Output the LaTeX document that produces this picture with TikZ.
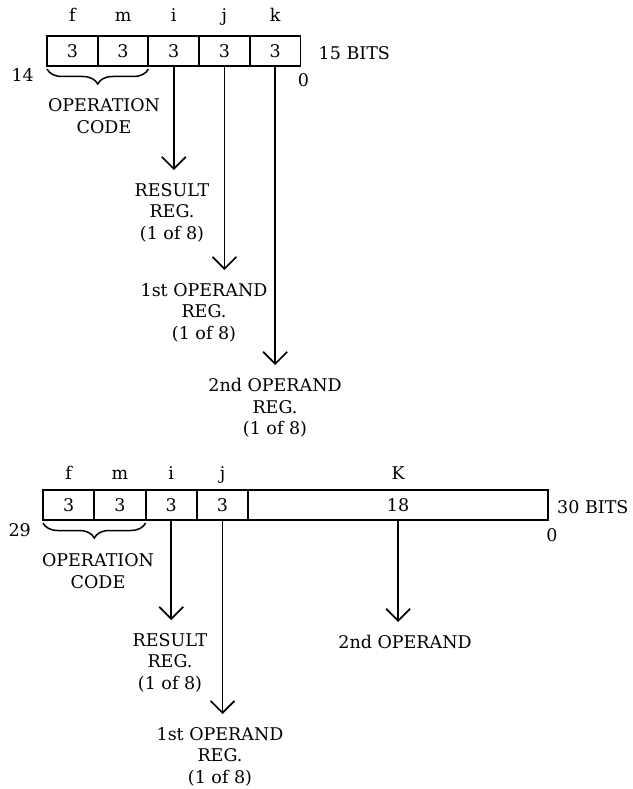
\documentclass[tikz,border=0pt]{standalone}
\usepackage{fontspec}
\setmainfont{DejaVu Serif}
\usetikzlibrary{positioning,arrows.meta,decorations.pathreplacing,calc}

\begin{document}
\begin{tikzpicture}[x=1pt,y=-1pt,
  every node/.style={font=\fontsize{17.5}{21.5}\selectfont, inner sep=0pt},
  %% one bit field of an instruction word
  field/.style={
    draw, line width=1.9pt, outer sep=0pt,
    minimum width=#1, minimum height=30pt,
    anchor=north west
  },
  field/.default=50.7pt,
  %% register / operand label under an arrow
  lbl/.style={align=center, anchor=north},
  %% brace under the operation code
  opbrace/.style={decorate, decoration={brace, mirror, amplitude=15pt}, line width=1.5pt},
  %% field arrows
  arr/.style={-{Straight Barb[length=12pt,width=24pt]}, line width=1.7pt, shorten >=13pt},
]
\useasboundingbox (0,0) rectangle (632,789);

%%-- 15-bit instruction -------------------------------------------------------
\node[field] (tf) at (47,36) {3};
\node[field, right=0pt of tf] (tm) {3};
\node[field, right=0pt of tm] (ti) {3};
\node[field, right=0pt of ti] (tj) {3};
\node[field, right=0pt of tj] (tk) {3};

\node[anchor=base] (tlf) at ([yshift=14pt]tf.north) {f};
\node[anchor=base] (tlm) at ([yshift=14pt]tm.north) {m};
\node[anchor=base] (tli) at ([yshift=14pt]ti.north) {i};
\node[anchor=base] (tlj) at ([yshift=14pt]tj.north) {j};
\node[anchor=base] (tlk) at ([yshift=14pt]tk.north) {k};

\node[anchor=west] (tbits) at ([xshift=18pt,yshift=-2pt]tk.east) {15 BITS};
\node[anchor=east] (thi) at ([xshift=-13pt,yshift=-9pt]tf.south west) {14};
\node (tlo) at ([xshift=3pt,yshift=-14pt]tk.south east) {0};

\draw[opbrace] ([yshift=-3pt]tf.south west) -- ([yshift=-3pt]tm.south east);
\node[align=center] (topc) at (104,116) {OPERATION\\CODE};

\node[lbl] (tres) at (172,183) {RESULT\\REG.\\(1 of 8)};
\node[lbl] (top1) at (204,283) {1st OPERAND\\REG.\\(1 of 8)};
\node[lbl] (top2) at (275,378) {2nd OPERAND\\REG.\\(1 of 8)};

\draw[arr] (ti.south) -- (ti.south |- tres.north);
\draw[arr] (tj.south) -- (tj.south |- top1.north);
\draw[arr] (tk.south) -- (tk.south |- top2.north);

%%-- 30-bit instruction -------------------------------------------------------
\node[field=51.3pt] (bf) at (43,490) {3};
\node[field=51.3pt, right=0pt of bf] (bm) {3};
\node[field=51.3pt, right=0pt of bm] (bi) {3};
\node[field=51.3pt, right=0pt of bi] (bj) {3};
\node[field=299.8pt, right=0pt of bj] (bk) {18};

\node[anchor=base] (blf) at ([yshift=11pt]bf.north) {f};
\node[anchor=base] (blm) at ([yshift=11pt]bm.north) {m};
\node[anchor=base] (bli) at ([yshift=11pt]bi.north) {i};
\node[anchor=base] (blj) at ([yshift=11pt]bj.north) {j};
\node[anchor=base] (blk) at ([yshift=11pt]bk.north) {K};

\node[anchor=west] (bbits) at ([xshift=9pt,yshift=-2pt]bk.east) {30 BITS};
\node[anchor=east] (bhi) at ([xshift=-12pt,yshift=-10pt]bf.south west) {29};
\node (blo) at ([xshift=4pt,yshift=-15pt]bk.south east) {0};

\draw[opbrace] ([yshift=-3pt]bf.south west) -- ([yshift=-3pt]bm.south east);
\node[align=center] (bopc) at (98,571) {OPERATION\\CODE};

\node[lbl] (bres) at (170,633) {RESULT\\REG.\\(1 of 8)};
\node[lbl] (bop1) at (220,727) {1st OPERAND\\REG.\\(1 of 8)};
\node[lbl] (bop2) at (405,635) {2nd OPERAND};

\draw[arr] (bi.south) -- (bi.south |- bres.north);
\draw[arr] (bj.south) -- (bj.south |- bop1.north);
\draw[arr] (bk.south) -- (bk.south |- bop2.north);

\end{tikzpicture}
\end{document}
